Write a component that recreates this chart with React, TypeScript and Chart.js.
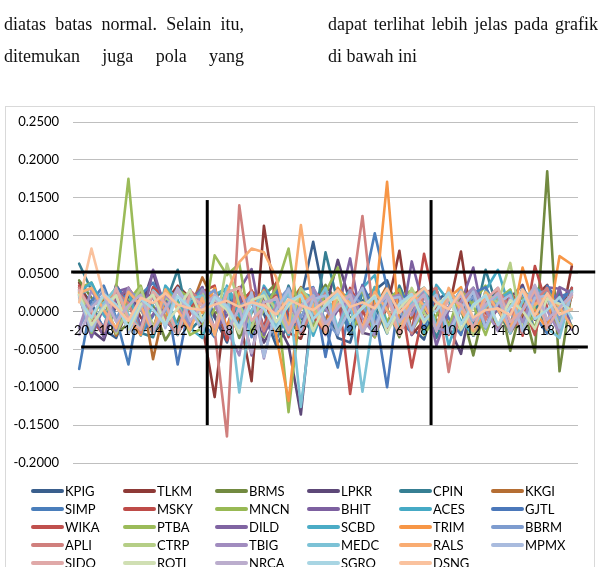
import React, { useEffect, useRef } from "react";
import { Chart, registerables } from "chart.js";

Chart.register(...registerables);

// Event days, t = -20 ... +20
const days = [
  "-20", "-19", "-18", "-17", "-16", "-15", "-14", "-13", "-12", "-11",
  "-10", "-9", "-8", "-7", "-6", "-5", "-4", "-3", "-2", "-1",
  "0", "1", "2", "3", "4", "5", "6", "7", "8", "9",
  "10", "11", "12", "13", "14", "15", "16", "17", "18", "19", "20",
];

const yTicks = [-0.2, -0.15, -0.1, -0.05, 0, 0.05, 0.1, 0.15, 0.2, 0.25];

// Abnormal return per ticker, one value per event day
const KPIG = [0.032, 0.011, -0.024, -0.035, 0.006, 0.027, 0.018, -0.012, -0.029, 0.004, 0.021, -0.008, -0.041, 0.012, 0.026, -0.003, -0.045, -0.018, 0.016, 0.092, 0.010, -0.035, -0.041, 0.014, 0.028, 0.041, -0.006, -0.021, -0.037, 0.016, 0.024, 0.002, -0.032, -0.009, 0.019, 0.022, -0.029, 0.004, 0.021, -0.015, 0.031];
const TLKM = [0.038, 0.002, -0.031, 0.014, 0.026, -0.008, -0.024, 0.012, 0.034, 0.018, -0.018, -0.113, 0.021, -0.004, -0.092, 0.113, 0.008, -0.028, -0.036, 0.011, 0.028, 0.006, -0.021, 0.012, -0.025, 0.004, 0.080, -0.031, -0.012, 0.024, 0.002, 0.079, -0.028, 0.011, 0.016, -0.022, -0.008, 0.019, 0.035, -0.025, 0.060];
const BRMS = [0.041, 0.018, 0.002, -0.031, -0.015, 0.024, 0.008, -0.038, -0.012, 0.026, 0.014, -0.004, 0.018, -0.035, -0.002, 0.021, 0.037, -0.014, -0.029, 0.011, 0.035, 0.012, -0.008, -0.022, 0.019, 0.004, -0.034, 0.021, 0.031, -0.013, -0.029, 0.004, -0.058, 0.012, 0.028, -0.052, 0.011, -0.054, 0.185, -0.079, 0.028];
const LPKR = [0.022, -0.025, -0.038, 0.008, 0.019, 0.004, 0.052, -0.011, -0.029, 0.018, 0.028, -0.005, -0.031, 0.022, 0.014, -0.041, -0.012, -0.045, -0.136, 0.021, 0.002, 0.068, 0.012, -0.028, -0.032, 0.021, 0.005, -0.024, 0.028, 0.011, -0.019, -0.056, 0.024, 0.009, -0.022, 0.018, 0.035, -0.011, 0.032, -0.028, 0.022];
const CPIN = [0.063, 0.028, 0.002, -0.022, 0.015, -0.028, -0.034, 0.009, 0.055, -0.025, -0.008, 0.018, 0.031, -0.019, 0.001, 0.026, -0.022, 0.034, -0.008, -0.028, 0.078, 0.012, -0.031, 0.025, 0.008, -0.029, 0.034, -0.002, 0.028, -0.035, 0.006, 0.021, -0.018, 0.055, 0.002, -0.028, 0.029, 0.012, -0.024, 0.025, -0.021];
const KKGI = [0.028, -0.008, 0.018, -0.032, 0.005, 0.031, -0.063, 0.011, 0.028, 0.002, 0.045, 0.012, -0.034, -0.006, 0.026, 0.018, -0.028, 0.008, 0.032, -0.021, -0.011, 0.025, 0.019, -0.022, 0.004, 0.034, -0.026, -0.008, 0.021, 0.029, -0.018, 0.004, -0.025, 0.022, 0.012, -0.029, -0.002, 0.032, 0.019, -0.028, 0.021];
const SIMP = [-0.076, 0.014, 0.034, -0.008, -0.070, 0.022, 0.038, 0.005, -0.022, 0.029, -0.014, -0.034, 0.026, 0.011, -0.019, 0.024, -0.038, 0.002, 0.028, 0.032, -0.021, -0.074, 0.006, 0.026, 0.103, 0.031, -0.012, -0.028, 0.022, 0.004, -0.025, 0.021, -0.032, 0.008, 0.024, -0.016, 0.031, -0.006, -0.029, 0.019, 0.026];
const MSKY = [0.025, -0.011, -0.031, 0.035, 0.008, -0.022, 0.032, 0.018, -0.028, -0.004, 0.026, 0.034, -0.038, 0.008, 0.028, -0.021, 0.038, -0.006, -0.026, 0.024, 0.019, -0.025, 0.031, 0.002, -0.034, 0.012, 0.026, -0.029, 0.076, 0.002, -0.031, 0.015, 0.025, -0.019, 0.004, 0.028, -0.032, 0.060, 0.005, -0.021, 0.029];
const MNCN = [0.031, 0.038, 0.002, -0.025, 0.014, 0.034, -0.021, -0.008, 0.028, 0.019, -0.031, 0.004, 0.024, 0.032, -0.016, -0.034, 0.026, -0.133, 0.011, -0.022, 0.025, 0.058, -0.028, 0.001, 0.032, -0.014, 0.018, 0.028, -0.031, -0.006, 0.026, -0.028, 0.014, 0.034, -0.025, 0.009, 0.018, -0.022, 0.031, 0.004, -0.019];
const BHIT = [0.021, -0.034, 0.006, 0.026, 0.031, -0.022, 0.055, 0.004, -0.028, 0.012, 0.032, -0.025, -0.005, 0.028, 0.056, -0.031, 0.004, 0.024, -0.021, 0.029, -0.026, 0.002, 0.070, -0.022, 0.008, 0.028, -0.031, 0.066, 0.004, -0.019, 0.026, 0.011, 0.058, -0.022, 0.005, 0.025, -0.028, 0.012, 0.032, 0.030, -0.024];
const ACES = [0.026, 0.038, 0.004, -0.024, 0.029, 0.011, -0.031, 0.034, 0.015, -0.022, -0.035, 0.022, 0.031, -0.006, -0.026, 0.034, 0.009, -0.028, 0.021, -0.032, 0.009, 0.029, -0.025, 0.031, 0.048, -0.021, 0.006, 0.026, -0.028, 0.035, 0.014, -0.012, -0.031, 0.028, 0.055, 0.001, -0.026, 0.032, 0.019, -0.024, 0.028];
const GJTL = [0.028, 0.004, -0.021, 0.034, 0.012, -0.031, -0.006, 0.026, -0.070, 0.014, 0.031, -0.025, 0.002, 0.029, -0.034, 0.011, 0.028, -0.012, -0.022, 0.031, -0.060, 0.024, -0.028, 0.035, 0.002, -0.100, 0.026, 0.011, -0.022, 0.028, -0.009, -0.031, 0.024, 0.032, 0.001, -0.021, 0.026, -0.029, 0.034, 0.011, 0.030];
const WIKA = [0.034, -0.004, -0.028, 0.015, 0.031, 0.008, -0.022, 0.026, -0.031, 0.004, 0.028, 0.014, -0.021, 0.032, -0.026, 0.009, 0.021, -0.034, 0.025, -0.006, -0.028, 0.031, -0.109, 0.004, 0.022, -0.026, 0.029, -0.074, 0.005, 0.021, -0.029, 0.016, 0.031, -0.002, -0.022, 0.024, 0.009, -0.031, 0.028, -0.025, 0.031];
const PTBA = [0.024, -0.028, 0.011, 0.031, 0.175, 0.002, -0.025, 0.029, 0.011, -0.031, -0.022, 0.074, 0.048, 0.063, -0.028, 0.002, 0.031, 0.083, -0.024, 0.006, 0.021, -0.029, 0.008, 0.028, -0.034, 0.015, 0.029, -0.026, 0.001, 0.024, -0.021, 0.028, 0.008, -0.031, 0.016, 0.029, -0.024, -0.004, 0.021, -0.026, 0.025];
const DILD = [0.029, 0.002, -0.034, 0.016, 0.031, -0.021, -0.004, 0.028, -0.025, 0.012, 0.032, -0.029, 0.006, 0.019, -0.058, 0.031, -0.002, -0.026, 0.028, 0.011, -0.031, 0.025, -0.002, 0.034, -0.024, 0.008, 0.021, -0.031, 0.026, -0.045, 0.002, 0.029, -0.021, 0.015, 0.031, -0.028, 0.002, 0.026, -0.019, 0.032, 0.024];
const SCBD = [0.022, 0.031, -0.005, -0.025, 0.028, -0.032, 0.011, 0.026, -0.022, 0.009, 0.029, -0.028, 0.034, 0.004, -0.021, 0.028, -0.002, -0.031, 0.025, 0.019, -0.024, 0.008, 0.028, -0.026, 0.032, 0.002, -0.029, 0.025, 0.009, 0.028, -0.045, 0.004, 0.031, -0.022, 0.016, 0.026, -0.028, 0.009, 0.029, -0.024, 0.027];
const TRIM = [0.019, -0.025, 0.008, 0.028, -0.011, -0.031, 0.026, 0.001, -0.028, 0.024, -0.002, 0.031, -0.022, 0.025, 0.009, 0.028, -0.032, -0.118, 0.026, 0.002, -0.025, 0.031, 0.011, -0.028, 0.006, 0.171, -0.022, 0.009, 0.029, -0.021, 0.018, 0.032, -0.031, 0.005, 0.019, -0.026, 0.058, 0.002, -0.024, 0.073, 0.062];
const BBRM = [-0.021, 0.008, 0.028, -0.011, 0.025, 0.019, -0.026, 0.001, 0.031, -0.022, 0.018, 0.028, -0.029, 0.005, 0.022, -0.024, 0.011, 0.031, -0.008, 0.026, -0.012, -0.031, 0.024, 0.009, -0.021, 0.026, 0.002, -0.028, 0.031, 0.011, -0.025, 0.008, 0.019, -0.022, 0.026, -0.001, -0.024, 0.022, 0.028, -0.011, 0.025];
const APLI = [0.031, -0.002, -0.022, 0.026, 0.011, -0.028, 0.024, -0.009, -0.031, 0.028, 0.012, -0.025, -0.165, 0.140, 0.022, -0.026, 0.008, 0.021, -0.031, 0.005, 0.025, -0.024, 0.008, 0.126, -0.022, 0.006, 0.021, -0.029, 0.024, 0.031, -0.080, 0.012, 0.026, -0.011, 0.029, 0.004, -0.028, 0.012, 0.031, -0.025, 0.021];
const CTRP = [0.026, -0.011, 0.021, -0.029, 0.004, 0.031, -0.022, 0.018, 0.009, -0.025, 0.026, -0.031, 0.063, 0.009, -0.021, 0.026, 0.002, -0.028, 0.031, 0.009, -0.024, 0.016, 0.021, -0.029, 0.005, 0.022, -0.026, 0.031, -0.002, -0.022, 0.028, 0.004, -0.031, 0.026, 0.011, 0.064, -0.025, 0.008, 0.022, -0.019, 0.026];
const TBIG = [-0.022, 0.028, 0.001, -0.026, 0.031, 0.004, -0.029, 0.022, 0.006, -0.021, 0.029, 0.009, -0.024, -0.058, 0.022, -0.062, 0.008, 0.021, -0.026, 0.031, 0.004, -0.022, 0.028, -0.009, -0.031, 0.016, 0.022, -0.005, 0.029, -0.021, -0.028, 0.014, 0.031, 0.002, -0.026, 0.019, -0.014, 0.028, 0.001, -0.029, 0.025];
const MEDC = [0.021, -0.026, 0.011, 0.031, -0.004, -0.024, 0.028, 0.009, -0.031, 0.016, 0.021, -0.028, 0.031, -0.107, 0.002, 0.026, -0.021, 0.029, -0.126, 0.004, 0.031, -0.022, 0.016, -0.106, 0.001, 0.028, -0.025, 0.012, 0.031, -0.019, 0.004, 0.028, -0.022, 0.006, 0.021, -0.029, 0.014, 0.031, -0.022, -0.035, 0.026];
const RALS = [0.024, 0.031, 0.002, -0.022, 0.026, 0.008, -0.028, 0.029, 0.002, -0.025, 0.018, -0.031, 0.024, 0.065, 0.083, 0.078, 0.045, -0.024, 0.114, 0.002, -0.028, 0.025, 0.011, -0.021, 0.026, 0.002, -0.029, 0.024, 0.008, -0.022, 0.031, 0.001, -0.026, 0.025, 0.002, -0.024, 0.029, 0.009, 0.022, 0.006, -0.021];
const MPMX = [0.019, -0.024, 0.008, 0.022, -0.029, 0.006, 0.021, -0.022, 0.031, 0.004, -0.026, 0.022, 0.008, -0.021, 0.025, -0.060, 0.002, 0.029, -0.024, 0.016, 0.021, -0.028, 0.004, 0.031, -0.022, 0.016, 0.019, -0.025, 0.008, 0.022, -0.029, 0.004, 0.026, -0.021, 0.011, 0.022, -0.026, 0.018, 0.021, -0.022, 0.025];
const SIDO = [0.028, 0.002, -0.026, 0.031, -0.009, -0.024, 0.026, 0.011, -0.029, 0.022, 0.008, -0.021, 0.025, 0.031, -0.012, 0.006, 0.019, -0.028, 0.004, 0.021, -0.025, 0.009, 0.022, -0.024, 0.006, 0.021, -0.031, 0.005, 0.022, -0.026, 0.018, 0.009, -0.022, 0.016, 0.031, -0.014, 0.001, 0.028, -0.022, 0.005, 0.020];
const ROTI = [0.022, -0.018, 0.005, 0.021, -0.024, 0.009, 0.022, -0.016, 0.004, 0.028, -0.011, 0.016, 0.002, -0.029, 0.015, 0.021, -0.014, 0.008, 0.022, -0.026, 0.011, 0.019, -0.012, 0.006, 0.021, -0.028, 0.004, 0.022, -0.015, 0.009, 0.021, -0.024, 0.006, 0.022, -0.018, 0.015, 0.001, -0.023, 0.017, 0.010, 0.002];
const NRCA = [-0.031, 0.005, 0.021, -0.014, 0.008, 0.022, -0.026, 0.004, 0.029, -0.012, 0.006, 0.021, -0.028, 0.005, -0.055, 0.012, 0.016, -0.024, 0.008, 0.021, -0.016, 0.004, 0.022, -0.029, 0.006, 0.021, -0.014, 0.008, 0.022, -0.025, 0.006, 0.021, -0.012, 0.009, 0.024, -0.026, 0.002, 0.035, -0.011, 0.005, 0.023];
const SGRO = [0.015, -0.008, 0.023, 0.009, -0.021, 0.017, 0.003, -0.018, 0.020, 0.005, -0.013, 0.019, 0.006, -0.022, 0.012, 0.004, -0.025, 0.013, 0.022, -0.010, 0.007, 0.024, -0.013, 0.004, 0.019, -0.020, 0.010, 0.023, -0.011, 0.001, 0.025, -0.017, 0.009, 0.021, -0.018, 0.006, 0.026, -0.010, 0.002, 0.019, -0.009];
const DSNG = [0.012, 0.083, 0.021, 0.005, -0.012, 0.018, 0.011, 0.024, 0.009, 0.004, 0.002, 0.009, 0.014, 0.006, 0.012, 0.008, -0.004, 0.016, 0.008, 0.002, 0.014, 0.028, 0.006, 0.012, 0.004, 0.030, -0.002, 0.016, 0.031, 0.012, 0.003, 0.026, -0.008, 0.002, 0.004, -0.005, 0.029, -0.006, 0.024, -0.004, 0.003];

const tickers = [
  "KPIG", "TLKM", "BRMS", "LPKR", "CPIN", "KKGI",
  "SIMP", "MSKY", "MNCN", "BHIT", "ACES", "GJTL",
  "WIKA", "PTBA", "DILD", "SCBD", "TRIM", "BBRM",
  "APLI", "CTRP", "TBIG", "MEDC", "RALS", "MPMX",
  "SIDO", "ROTI", "NRCA", "SGRO", "DSNG",
];

const seriesValues = [
  KPIG, TLKM, BRMS, LPKR, CPIN, KKGI,
  SIMP, MSKY, MNCN, BHIT, ACES, GJTL,
  WIKA, PTBA, DILD, SCBD, TRIM, BBRM,
  APLI, CTRP, TBIG, MEDC, RALS, MPMX,
  SIDO, ROTI, NRCA, SGRO, DSNG,
];

const seriesColors = [
  "#3A5F8D", "#8E3A37", "#728A40", "#5D4878", "#367F93", "#B56E33",
  "#4A7EBB", "#BE4B48", "#98B954", "#7D60A0", "#46AAC5", "#4B78BA",
  "#C0504D", "#9BBB59", "#8064A2", "#4BACC6", "#F79646", "#7E9CCF",
  "#D07F7D", "#B5CE86", "#A18CBF", "#7CC2D6", "#F9AC72", "#A9BBDE",
  "#E0A9A8", "#D0DFB3", "#BBADCD", "#A8D5E3", "#FAC29E",
];

// Normal-return band and event window markers (data units)
const upperBand = 0.052;
const lowerBand = -0.047;
const upperBandDays = [-20.65, 21.9];
const lowerBandDays = [-19.84, 21.3];
const windowDays = [-9.6, 8.57];
const windowRange = [0.147, -0.15];
const firstDay = -20;

const axisFont = { family: "Lato", size: 13 };

const framePlugin = {
  id: "frame",
  beforeDraw(chart: any) {
    const { ctx, width, height } = chart;
    ctx.save();
    ctx.fillStyle = "#FFFFFF";
    ctx.fillRect(0, 0, width, height);
    ctx.strokeStyle = "#D9D9D9";
    ctx.lineWidth = 1;
    ctx.strokeRect(5.5, 106.5, 589, 520);
    ctx.restore();
  },
};

const legendPlugin = {
  id: "gridLegend",
  afterDraw(chart: any) {
    const { ctx } = chart;
    ctx.save();
    ctx.font = "13px Lato";
    ctx.textBaseline = "middle";
    chart.data.datasets.forEach((ds: any, i: number) => {
      const col = i % 6;
      const row = Math.floor(i / 6);
      const x0 = 33 + col * 92;
      const yy = 491 + row * 18;
      ctx.strokeStyle = ds.borderColor;
      ctx.lineWidth = 4;
      ctx.lineCap = "round";
      ctx.beginPath();
      ctx.moveTo(x0, yy);
      ctx.lineTo(x0 + 29, yy);
      ctx.stroke();
      ctx.fillStyle = "#000000";
      ctx.fillText(ds.label, x0 + 32, yy + 1);
    });
    ctx.restore();
  },
};

const markerPlugin = {
  id: "eventMarkers",
  afterDraw(chart: any) {
    const { ctx } = chart;
    const xs = chart.scales.x;
    const ys = chart.scales.y;
    const px = (day: number) => xs.getPixelForValue(day - firstDay);
    const py = (v: number) => ys.getPixelForValue(v);
    ctx.save();
    ctx.strokeStyle = "#000000";
    ctx.lineWidth = 3;
    ctx.lineCap = "butt";
    const seg = (x1: number, y1: number, x2: number, y2: number) => {
      ctx.beginPath();
      ctx.moveTo(x1, y1);
      ctx.lineTo(x2, y2);
      ctx.stroke();
    };
    seg(px(upperBandDays[0]), py(upperBand), px(upperBandDays[1]), py(upperBand));
    seg(px(lowerBandDays[0]), py(lowerBand), px(lowerBandDays[1]), py(lowerBand));
    windowDays.forEach((d) => seg(px(d), py(windowRange[0]), px(d), py(windowRange[1])));
    ctx.restore();
  },
};

function AbnormalReturnChart() {
  const canvasRef = useRef<HTMLCanvasElement | null>(null);

  useEffect(() => {
    const canvas = canvasRef.current;
    if (!canvas) return;
    const n = tickers.length;
    const chart = new Chart(canvas, {
      type: "line",
      data: {
        labels: days,
        datasets: tickers.map((name, i) => ({
          label: name,
          data: seriesValues[i],
          borderColor: seriesColors[i],
          backgroundColor: seriesColors[i],
          borderWidth: 2.6,
          pointRadius: 0,
          tension: 0,
          fill: false,
          borderJoinStyle: "round" as const,
          borderCapStyle: "round" as const,
          order: n - i,
        })),
      },
      options: {
        responsive: false,
        animation: false,
        devicePixelRatio: 1,
        layout: { padding: { top: 122, right: 20, bottom: 104, left: 0 } },
        plugins: {
          legend: { display: false },
          tooltip: { enabled: false },
        },
        scales: {
          x: {
            type: "category",
            offset: true,
            position: { y: 0 } as any,
            grid: { display: false, drawTicks: false },
            border: { display: true, color: "#A6A6A6", width: 1 },
            ticks: {
              autoSkip: false,
              maxRotation: 0,
              minRotation: 0,
              padding: 12,
              z: 1,
              color: "#000000",
              font: axisFont,
              callback: function (this: any, value: any, index: number) {
                return index % 2 === 0 ? this.getLabelForValue(value) : "";
              },
            },
            afterFit: (s: any) => {
              s.height = 0;
            },
          },
          y: {
            min: yTicks[0],
            max: yTicks[yTicks.length - 1],
            grid: { color: "#BFBFBF", lineWidth: 1, drawTicks: false },
            border: { display: false },
            ticks: {
              stepSize: yTicks[1] - yTicks[0],
              padding: 14,
              color: "#000000",
              font: axisFont,
              callback: (v: any) => Number(v).toFixed(4),
            },
            afterFit: (s: any) => {
              s.width = 73;
            },
          },
        },
      },
      plugins: [framePlugin, legendPlugin, markerPlugin],
    });
    return () => chart.destroy();
  }, []);

  return (
    <canvas
      ref={canvasRef}
      width={598}
      height={567}
      style={{ position: "absolute", left: 0, top: 0, width: 598, height: 567, display: "block" }}
    />
  );
}

const textStyle: React.CSSProperties = {
  position: "absolute",
  fontFamily: "'Liberation Serif', 'Times New Roman', serif",
  fontSize: 18,
  lineHeight: "22px",
  color: "#111",
  whiteSpace: "nowrap",
};

const justified: React.CSSProperties = {
  textAlign: "justify",
  textAlignLast: "justify" as any,
  whiteSpace: "normal",
};

export default function App() {
  return (
    <div
      style={{
        position: "fixed",
        left: 0,
        top: 0,
        width: 598,
        height: 567,
        overflow: "hidden",
        background: "#FFFFFF",
      }}
    >
      <AbnormalReturnChart />
      <div style={{ ...textStyle, ...justified, left: 4, top: 13, width: 240 }}>
        diatas batas normal. Selain itu,
      </div>
      <div style={{ ...textStyle, ...justified, left: 4, top: 45, width: 240 }}>
        ditemukan juga pola yang
      </div>
      <div style={{ ...textStyle, ...justified, left: 328, top: 13, width: 270 }}>
        dapat terlihat lebih jelas pada grafik
      </div>
      <div style={{ ...textStyle, left: 328, top: 45 }}>di bawah ini</div>
    </div>
  );
}
